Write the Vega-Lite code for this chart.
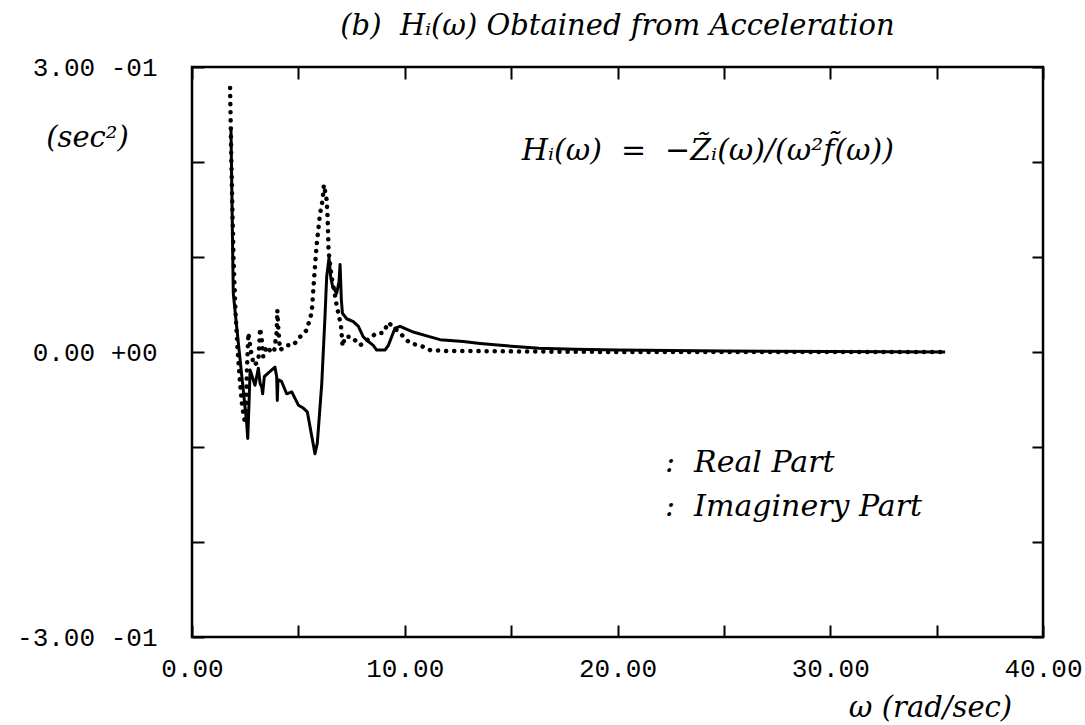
{
  "$schema": "https://vega.github.io/schema/vega-lite/v6.json",
  "width": 851,
  "height": 570,
  "autosize": {"type": "none"},
  "padding": {"left": 192, "top": 67, "right": 42, "bottom": 88},
  "background": "white",
  "config": {
    "view": {"stroke": "black", "strokeWidth": 2.5},
    "axis": {"domain": false, "grid": false, "tickColor": "black", "tickWidth": 2, "labelColor": "black", "titleColor": "black", "labelFlush": false, "labelOverlap": false}
  },
  "title": {
    "text": "(b)\u00a0\u00a0Hᵢ(ω) Obtained from Acceleration",
    "font": "DejaVu Serif",
    "fontStyle": "italic",
    "fontWeight": "normal",
    "fontSize": 29,
    "color": "black",
    "anchor": "middle",
    "offset": 13,
    "dx": 0
  },
  "datasets": {
    "real": [
      {"w": 1.83, "h": 0.237}, {"w": 1.94, "h": 0.062}, {"w": 2.02, "h": 0.044}, {"w": 2.18, "h": 0.009},
      {"w": 2.41, "h": -0.04}, {"w": 2.57, "h": -0.075}, {"w": 2.62, "h": -0.091}, {"w": 2.68, "h": -0.054},
      {"w": 2.73, "h": -0.019}, {"w": 2.96, "h": -0.035}, {"w": 3.12, "h": -0.017}, {"w": 3.2, "h": -0.033},
      {"w": 3.28, "h": -0.037}, {"w": 3.32, "h": -0.044}, {"w": 3.4, "h": -0.026}, {"w": 3.59, "h": -0.022},
      {"w": 3.9, "h": -0.016}, {"w": 3.98, "h": -0.026}, {"w": 4.01, "h": -0.051}, {"w": 4.04, "h": -0.029},
      {"w": 4.21, "h": -0.031}, {"w": 4.45, "h": -0.044}, {"w": 4.69, "h": -0.042}, {"w": 5.0, "h": -0.056},
      {"w": 5.23, "h": -0.059}, {"w": 5.42, "h": -0.063}, {"w": 5.55, "h": -0.079}, {"w": 5.78, "h": -0.107},
      {"w": 5.89, "h": -0.096}, {"w": 6.1, "h": -0.033}, {"w": 6.25, "h": 0.037}, {"w": 6.33, "h": 0.079},
      {"w": 6.44, "h": 0.099}, {"w": 6.52, "h": 0.079}, {"w": 6.61, "h": 0.069}, {"w": 6.8, "h": 0.062},
      {"w": 6.91, "h": 0.074}, {"w": 6.96, "h": 0.092}, {"w": 7.02, "h": 0.055}, {"w": 7.07, "h": 0.041},
      {"w": 7.27, "h": 0.035}, {"w": 7.58, "h": 0.032}, {"w": 7.82, "h": 0.027}, {"w": 8.05, "h": 0.016},
      {"w": 8.29, "h": 0.011}, {"w": 8.52, "h": 0.007}, {"w": 8.68, "h": 0.002}, {"w": 9.07, "h": 0.002},
      {"w": 9.23, "h": 0.007}, {"w": 9.54, "h": 0.025}, {"w": 9.78, "h": 0.027}, {"w": 10.4, "h": 0.021},
      {"w": 11.03, "h": 0.017}, {"w": 11.66, "h": 0.013}, {"w": 12.75, "h": 0.011}, {"w": 13.54, "h": 0.009},
      {"w": 14.5, "h": 0.007}, {"w": 16.3, "h": 0.004}, {"w": 18.0, "h": 0.003}, {"w": 20.0, "h": 0.002},
      {"w": 25.0, "h": 0.001}, {"w": 30.0, "h": 0.0005}, {"w": 35.4, "h": 0.0}
    ],
    "imag": [
      {"w": 1.79, "h": 0.278}, {"w": 1.85, "h": 0.2}, {"w": 1.95, "h": 0.1}, {"w": 2.05, "h": 0.04},
      {"w": 2.15, "h": 0.0}, {"w": 2.25, "h": -0.03}, {"w": 2.35, "h": -0.055}, {"w": 2.45, "h": -0.07},
      {"w": 2.52, "h": -0.075}, {"w": 2.58, "h": -0.02}, {"w": 2.65, "h": 0.02}, {"w": 2.73, "h": 0.007},
      {"w": 2.8, "h": -0.003}, {"w": 2.91, "h": -0.014}, {"w": 3.12, "h": -0.01}, {"w": 3.2, "h": 0.025},
      {"w": 3.28, "h": 0.013}, {"w": 3.35, "h": -0.005}, {"w": 3.51, "h": 0.006}, {"w": 3.75, "h": -0.001},
      {"w": 3.87, "h": 0.002}, {"w": 3.98, "h": 0.021}, {"w": 4.01, "h": 0.044}, {"w": 4.06, "h": 0.023},
      {"w": 4.14, "h": 0.002}, {"w": 4.45, "h": 0.007}, {"w": 4.76, "h": 0.007}, {"w": 5.04, "h": 0.015},
      {"w": 5.39, "h": 0.023}, {"w": 5.63, "h": 0.042}, {"w": 5.7, "h": 0.065}, {"w": 5.78, "h": 0.09},
      {"w": 5.86, "h": 0.113}, {"w": 6.02, "h": 0.146}, {"w": 6.14, "h": 0.16}, {"w": 6.2, "h": 0.176},
      {"w": 6.33, "h": 0.16}, {"w": 6.38, "h": 0.139}, {"w": 6.42, "h": 0.106}, {"w": 6.56, "h": 0.079},
      {"w": 6.72, "h": 0.06}, {"w": 6.8, "h": 0.049}, {"w": 7.0, "h": 0.028}, {"w": 7.08, "h": 0.006},
      {"w": 7.19, "h": 0.016}, {"w": 7.5, "h": 0.016}, {"w": 7.9, "h": 0.007}, {"w": 8.68, "h": 0.02},
      {"w": 8.99, "h": 0.02}, {"w": 9.23, "h": 0.031}, {"w": 9.86, "h": 0.018}, {"w": 10.25, "h": 0.009},
      {"w": 10.72, "h": 0.007}, {"w": 11.19, "h": 0.002}, {"w": 11.97, "h": 0.001}, {"w": 13.0, "h": 0.001},
      {"w": 16.0, "h": 0.0005}, {"w": 20.0, "h": 0.0}, {"w": 35.4, "h": 0.0}
    ]
  },
  "resolve": {"axis": {"x": "independent", "y": "independent"}},
  "layer": [
    {
      "data": {"name": "real"},
      "mark": {"type": "line", "color": "black", "strokeWidth": 3, "strokeJoin": "round"},
      "encoding": {
        "x": {
          "field": "w", "type": "quantitative",
          "scale": {"domain": [0, 40], "nice": false, "zero": false},
          "axis": {
            "orient": "bottom",
            "values": [0, 5, 10, 15, 20, 25, 30, 35, 40],
            "labelExpr": "datum.value % 10 === 0 ? format(datum.value, '.2f') : ''",
            "tickSize": -12,
            "labelFont": "Liberation Mono", "labelFontSize": 26, "labelPadding": 30,
            "title": "ω\u00a0(rad/sec)",
            "titleFont": "DejaVu Serif", "titleFontStyle": "italic", "titleFontWeight": "normal", "titleFontSize": 29,
            "titleX": 738, "titleY": 70, "titleAlign": "center", "titleBaseline": "middle"
          }
        },
        "y": {
          "field": "h", "type": "quantitative",
          "scale": {"domain": [-0.3, 0.3], "nice": false, "zero": false},
          "axis": {
            "orient": "left",
            "values": [-0.3, -0.2, -0.1, 0, 0.1, 0.2, 0.3],
            "labelExpr": "abs(datum.value-0.3)<1e-9 ? '3.00 -01' : abs(datum.value)<1e-9 ? '0.00 +00' : abs(datum.value+0.3)<1e-9 ? '-3.00 -01' : ''",
            "tickSize": -12,
            "labelFont": "Liberation Mono", "labelFontSize": 26, "labelPadding": 47, "labelBaseline": "middle",
            "title": "(sec²)",
            "titleAngle": 0,
            "titleFont": "DejaVu Serif", "titleFontStyle": "italic", "titleFontWeight": "normal", "titleFontSize": 29,
            "titleX": -105, "titleY": 70, "titleAlign": "center", "titleBaseline": "middle"
          }
        }
      }
    },
    {
      "data": {"name": "imag"},
      "mark": {"type": "line", "color": "black", "strokeWidth": 4.5, "strokeCap": "round", "strokeDash": [0.1, 8]},
      "encoding": {
        "x": {
          "field": "w", "type": "quantitative",
          "axis": {"orient": "top", "values": [0, 5, 10, 15, 20, 25, 30, 35, 40], "labels": false, "tickSize": -12, "title": null}
        },
        "y": {
          "field": "h", "type": "quantitative",
          "axis": {"orient": "right", "values": [-0.3, -0.2, -0.1, 0, 0.1, 0.2, 0.3], "labels": false, "tickSize": -11, "title": null}
        }
      }
    },
    {
      "data": {"values": [{"w": 15.5, "h": 0.212, "label": "Hᵢ(ω)\u00a0\u00a0=\u00a0\u00a0−Z̃ᵢ(ω)/(ω²f̃(ω))"}]},
      "mark": {"type": "text", "align": "left", "baseline": "middle", "font": "DejaVu Serif", "fontStyle": "italic", "fontSize": 30, "color": "black"},
      "encoding": {
        "x": {"field": "w", "type": "quantitative", "axis": null},
        "y": {"field": "h", "type": "quantitative", "axis": null},
        "text": {"field": "label"}
      }
    },
    {
      "data": {"values": [
        {"w": 22.23, "h": -0.117, "label": ":\u00a0\u00a0Real Part"},
        {"w": 22.23, "h": -0.163, "label": ":\u00a0\u00a0Imaginery Part"}
      ]},
      "mark": {"type": "text", "align": "left", "baseline": "middle", "font": "DejaVu Serif", "fontStyle": "italic", "fontSize": 30, "color": "black"},
      "encoding": {
        "x": {"field": "w", "type": "quantitative", "axis": null},
        "y": {"field": "h", "type": "quantitative", "axis": null},
        "text": {"field": "label"}
      }
    }
  ]
}
